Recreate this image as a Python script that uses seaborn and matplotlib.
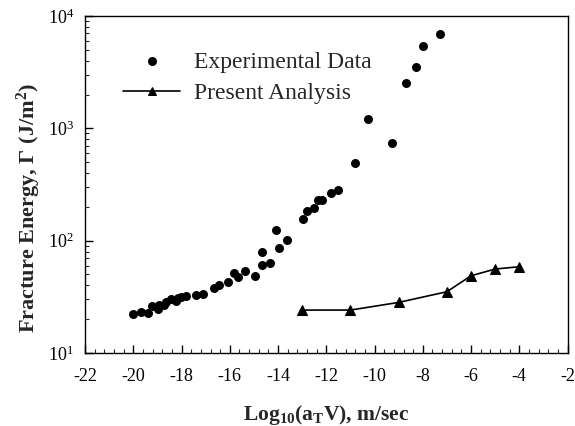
import numpy as np
import pandas as pd
import matplotlib
matplotlib.use("Agg")
import matplotlib.pyplot as plt
from matplotlib.ticker import MultipleLocator, LogLocator, NullFormatter
import seaborn as sns

# Experimental data
exp_x = [-20.02, -19.70, -19.40, -19.22, -18.98, -18.92, -18.71, -18.64, -18.43, -18.23,
         -18.13, -18.02, -17.81, -17.40, -17.12, -16.64, -16.44, -16.09, -15.84, -15.68,
         -15.38, -14.95, -14.67, -14.67, -14.34, -14.10, -13.96, -13.64,
         -12.95, -12.81, -12.51, -12.36, -12.19, -11.82, -11.53, -10.83, -10.26, -9.27,
         -8.69, -8.30, -7.99, -7.29]
exp_y = [22.2, 23.1, 22.8, 26.2, 24.5, 26.7, 26.7, 28.6, 30.0, 29.2,
         30.6, 31.3, 31.9, 32.8, 33.5, 37.6, 40.0, 43.1, 51.8, 47.1,
         54.0, 48.7, 60.6, 78.7, 63.6, 124, 86, 101,
         156, 185, 194, 228, 228, 263, 282, 488, 1202, 735,
         2547, 3537, 5440, 6918]

# Present analysis
ana_x = [-13, -11, -9, -7, -6, -5, -4]
ana_y = [24.1, 24.1, 28.2, 35.1, 48.7, 55.9, 58.6]

sns.set_style("ticks")
plt.rcParams['font.family'] = ['Liberation Serif', 'DejaVu Serif']
plt.rcParams['mathtext.fontset'] = 'custom'
plt.rcParams['mathtext.rm'] = 'Liberation Serif'
plt.rcParams['mathtext.it'] = 'Liberation Serif:italic'
plt.rcParams['mathtext.bf'] = 'Liberation Serif:bold'
plt.rcParams['axes.unicode_minus'] = False

fig = plt.figure(figsize=(5.75, 4.26), dpi=100)
ax = fig.add_axes([0.148, 0.1714, 0.839, 0.791])

df_exp = pd.DataFrame({"x": exp_x, "y": exp_y})
df_ana = pd.DataFrame({"x": ana_x, "y": ana_y})

sns.scatterplot(data=df_exp, x="x", y="y", ax=ax, color="black", s=42,
                edgecolor="black", linewidth=0, label="Experimental Data", zorder=3)
sns.lineplot(data=df_ana, x="x", y="y", ax=ax, color="black", marker="^",
             markersize=7, markeredgecolor="black", linewidth=1.2,
             label="Present Analysis", zorder=3)

ax.set_yscale("log")
ax.set_xlim(-22, -2)
ax.set_ylim(10, 1e4)
ax.xaxis.set_major_locator(MultipleLocator(2))
ax.xaxis.set_minor_locator(MultipleLocator(0.4))
ax.yaxis.set_major_locator(LogLocator(base=10))
ax.yaxis.set_minor_locator(LogLocator(base=10, subs=np.arange(2, 10)))
ax.yaxis.set_minor_formatter(NullFormatter())

ax.tick_params(axis="both", which="major", direction="in", length=6, width=1,
               labelsize=13, top=False, right=False, colors="black")
ax.tick_params(axis="x", which="major", pad=11)
ax.tick_params(axis="y", which="major", pad=8)
ax.tick_params(axis="both", which="minor", direction="in", length=3, width=0.8,
               top=False, right=False)
for sp in ax.spines.values():
    sp.set_color("black")
    sp.set_linewidth(1.0)

ax.set_xlabel(r"$\mathbf{Log_{10}(a_{T}V)}$, m/sec", fontsize=15.5, fontweight="bold", labelpad=13)
ax.set_ylabel(r"Fracture Energy, $\mathbf{\Gamma}$ (J/m$\mathbf{^2}$)", fontsize=16,
              fontweight="bold")
ax.yaxis.set_label_coords(-0.088, 0.43)

leg = ax.legend(loc="upper left", bbox_to_anchor=(0.045, 0.945), frameon=False,
                fontsize=17, handlelength=2.4, handletextpad=0.6, labelspacing=0.42,
                borderaxespad=0.3)
for h in leg.legend_handles:
    try:
        h.set_sizes([42])
    except AttributeError:
        h.set_markersize(5.5)

fig.savefig("out.png", dpi=100)
